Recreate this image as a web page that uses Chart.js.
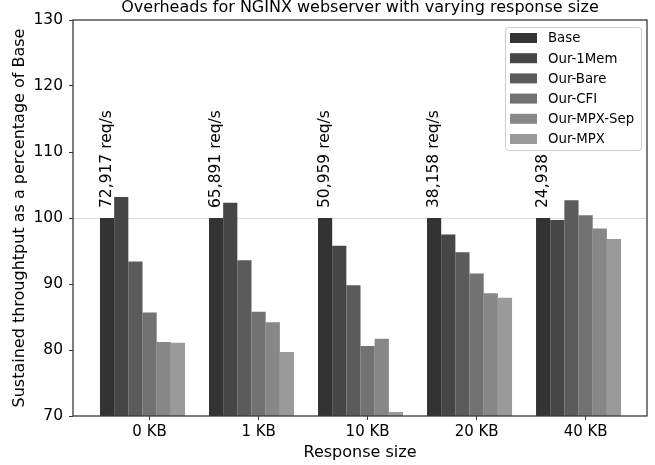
<!DOCTYPE html>
<html>
<head>
<meta charset="utf-8">
<script src="https://cdn.jsdelivr.net/npm/chart.js@4/dist/chart.umd.min.js"></script>
<style>
  body { margin: 0; background: #fff; }
</style>
</head>
<body>
<canvas id="nginxChart" width="655" height="465"></canvas>
<script>
// data
const categories = ['0 KB', '1 KB', '10 KB', '20 KB', '40 KB'];
const seriesNames = ['Base', 'Our-1Mem', 'Our-Bare', 'Our-CFI', 'Our-MPX-Sep', 'Our-MPX'];
const base = [100, 100, 100, 100, 100];
const our1Mem = [103.2, 102.3, 95.8, 97.5, 99.7];
const ourBare = [93.4, 93.6, 89.8, 94.8, 102.7];
const ourCFI = [85.7, 85.8, 80.6, 91.6, 100.4];
const ourMPXSep = [81.2, 84.2, 81.7, 88.6, 98.4];
const ourMPX = [81.1, 79.7, 70.6, 87.9, 96.8];
const reqLabels = ['72,917 req/s', '65,891 req/s', '50,959 req/s', '38,158 req/s', '24,938'];
const yTicks = [70, 80, 90, 100, 110, 120, 130];

const seriesValues = [base, our1Mem, ourBare, ourCFI, ourMPXSep, ourMPX];
const colors = ['#333333', '#464646', '#5b5b5b', '#727272', '#878787', '#9a9a9a'];

Chart.defaults.font.family = "'DejaVu Sans', sans-serif";
Chart.defaults.color = '#000';

// box round the plot
const framePlugin = {
  id: 'frame',
  afterDatasetsDraw(chart) {
    const a = chart.chartArea, ctx = chart.ctx;
    ctx.save();
    ctx.strokeStyle = '#3a3a3a';
    ctx.lineWidth = 1.3;
    ctx.strokeRect(a.left, a.top, a.right - a.left, a.bottom - a.top);
    ctx.restore();
  }
};

// rotated req/s texts above the Base bars
const reqPlugin = {
  id: 'reqLabels',
  afterDatasetsDraw(chart) {
    const ctx = chart.ctx;
    const meta = chart.getDatasetMeta(0);
    const y = chart.scales.y.getPixelForValue(100);
    ctx.save();
    ctx.font = "15.5px 'DejaVu Sans'";
    ctx.fillStyle = '#000';
    ctx.textAlign = 'left';
    ctx.textBaseline = 'alphabetic';
    meta.data.forEach((bar, i) => {
      ctx.save();
      ctx.translate(bar.x + 4, y - 10);
      ctx.rotate(-Math.PI / 2);
      ctx.fillText(reqLabels[i], 0, 0);
      ctx.restore();
    });
    ctx.restore();
  }
};

// legend box in the upper right of the plot
const legendPlugin = {
  id: 'boxLegend',
  afterDraw(chart) {
    const a = chart.chartArea, ctx = chart.ctx;
    const w = 136, h = 123;
    const x0 = a.right - 6 - w, y0 = a.top + 7;
    ctx.save();
    ctx.fillStyle = 'rgba(255,255,255,0.85)';
    ctx.strokeStyle = '#cccccc';
    ctx.lineWidth = 1;
    ctx.beginPath();
    ctx.roundRect(x0 + 0.5, y0 + 0.5, w, h, 3);
    ctx.fill();
    ctx.stroke();
    ctx.font = "13.3px 'DejaVu Sans'";
    ctx.textBaseline = 'middle';
    chart.data.datasets.forEach((ds, i) => {
      const cy = y0 + 11 + i * 20.2;
      ctx.fillStyle = ds.backgroundColor;
      ctx.fillRect(x0 + 5, cy - 5, 27, 10);
      ctx.fillStyle = '#000';
      ctx.fillText(ds.label, x0 + 43, cy + 1);
    });
    ctx.restore();
  }
};

const ctx = document.getElementById('nginxChart').getContext('2d');
new Chart(ctx, {
  type: 'bar',
  data: {
    datasets: seriesNames.map((name, s) => ({
      label: name,
      data: categories.map((c, i) => ({ x: i, y: seriesValues[s][i] })),
      backgroundColor: colors[s],
      borderWidth: 0,
      categoryPercentage: 0.78,
      barPercentage: 1.0
    }))
  },
  options: {
    responsive: false,
    animation: false,
    layout: { padding: { left: 0, right: 8, top: 0, bottom: 0 } },
    plugins: {
      legend: { display: false },
      tooltip: { enabled: false },
      title: {
        display: true,
        fullSize: false,
        text: 'Overheads for NGINX webserver with varying response size',
        font: { size: 16, weight: 'normal', lineHeight: 1 },
        color: '#000',
        padding: { top: 0, bottom: 4 }
      }
    },
    scales: {
      x: {
        type: 'linear',
        offset: false,
        min: -0.6376,
        max: 4.628,
        afterBuildTicks(scale) {
          // tick sits at the centre of the fourth bar of each group
          scale.ticks = categories.map((c, i) => ({ value: i + 0.065 }));
        },
        afterFit(scale) { scale.height = 49; },
        ticks: {
          autoSkip: false,
          maxRotation: 0,
          padding: 3,
          font: { size: 15 },
          callback: (value, index) => categories[index]
        },
        grid: { offset: false, drawOnChartArea: false, tickLength: 4, tickColor: '#333' },
        border: { display: false },
        title: {
          display: true,
          text: 'Response size',
          font: { size: 16 },
          padding: { top: 0, bottom: 3 }
        }
      },
      y: {
        min: 70,
        max: 130,
        afterBuildTicks(scale) {
          scale.ticks = yTicks.map(v => ({ value: v }));
        },
        afterFit(scale) { scale.width = 73; },
        ticks: { padding: 6, font: { size: 15.5 } },
        grid: {
          color: c => (c.tick && c.tick.value === 100 ? '#dddddd' : 'rgba(0,0,0,0)'),
          tickColor: '#333',
          tickLength: 4,
          lineWidth: 1
        },
        border: { display: false },
        title: {
          display: true,
          text: 'Sustained throughtput as a percentage of Base',
          font: { size: 16 },
          padding: { top: 10, bottom: 0 }
        }
      }
    }
  },
  plugins: [framePlugin, reqPlugin, legendPlugin]
});
</script>
</body>
</html>
